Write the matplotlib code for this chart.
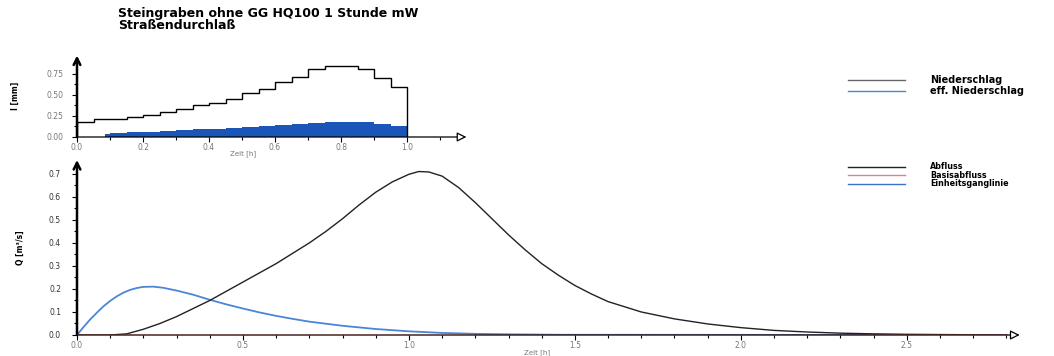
import matplotlib
matplotlib.use('Agg')
import matplotlib.pyplot as plt
import numpy as np
from matplotlib.lines import Line2D
from matplotlib.ticker import FormatStrFormatter

# Daten: Niederschlag (Blockregen, 0.05 h Intervalle)
nieder_edges = [0.0, 0.05, 0.10, 0.15, 0.20, 0.25, 0.30, 0.35, 0.40, 0.45, 0.50,
                0.55, 0.60, 0.65, 0.70, 0.75, 0.80, 0.85, 0.90, 0.95, 1.00]
nieder = [0.18, 0.21, 0.22, 0.24, 0.26, 0.30, 0.33, 0.38, 0.40, 0.45,
          0.52, 0.57, 0.65, 0.71, 0.81, 0.85, 0.85, 0.81, 0.70, 0.59]

# effektiver Niederschlag
eff_edges = [0.085, 0.10, 0.15, 0.20, 0.25, 0.30, 0.35, 0.40, 0.45, 0.50,
             0.55, 0.60, 0.65, 0.70, 0.75, 0.80, 0.85, 0.90, 0.95, 1.00]
eff = [0.04, 0.05, 0.06, 0.065, 0.075, 0.08, 0.09, 0.10, 0.11, 0.12,
       0.13, 0.14, 0.155, 0.17, 0.18, 0.18, 0.175, 0.16, 0.13]

# Abfluss
abfluss_t = [0.0, 0.10, 0.15, 0.20, 0.25, 0.30, 0.35, 0.40, 0.45, 0.50, 0.55, 0.60,
             0.65, 0.70, 0.75, 0.80, 0.85, 0.90, 0.95, 1.00, 1.03, 1.06, 1.10, 1.15,
             1.20, 1.25, 1.30, 1.35, 1.40, 1.45, 1.50, 1.55, 1.60, 1.70, 1.80, 1.90,
             2.00, 2.10, 2.20, 2.30, 2.40, 2.50, 2.60, 2.70, 2.80]
abfluss = [0.0, 0.0, 0.005, 0.025, 0.05, 0.08, 0.115, 0.15, 0.19, 0.23, 0.27, 0.31,
           0.355, 0.40, 0.45, 0.505, 0.565, 0.62, 0.665, 0.698, 0.71, 0.708, 0.69, 0.64,
           0.575, 0.505, 0.435, 0.37, 0.31, 0.26, 0.215, 0.178, 0.145, 0.10, 0.07, 0.048,
           0.032, 0.02, 0.013, 0.008, 0.005, 0.003, 0.002, 0.001, 0.0]

# Basisabfluss
basis_t = [0.0, 2.80]
basis = [0.0, 0.0]

# Einheitsganglinie
egl_t = [0.0, 0.02, 0.04, 0.06, 0.08, 0.10, 0.12, 0.14, 0.16, 0.18, 0.20, 0.23,
         0.26, 0.30, 0.35, 0.40, 0.45, 0.50, 0.55, 0.60, 0.65, 0.70, 0.80, 0.90,
         1.00, 1.10, 1.20, 1.30, 1.45, 2.80]
egl = [0.0, 0.035, 0.068, 0.097, 0.125, 0.148, 0.168, 0.184, 0.196, 0.204, 0.209, 0.21,
       0.205, 0.193, 0.175, 0.153, 0.133, 0.115, 0.098, 0.083, 0.07, 0.058, 0.04, 0.026,
       0.016, 0.009, 0.005, 0.003, 0.001, 0.0]

title = ['Steingraben ohne GG HQ100 1 Stunde mW', 'Straßendurchlaß']

W, H = 1054, 356
fig = plt.figure(figsize=(W / 100, H / 100), dpi=100)

def px(x0, y0, w, h):
    return [x0 / W, 1 - (y0 + h) / H, w / W, h / H]

tick_col = '#777777'

def style(ax, xmax, ymax):
    for s in ax.spines.values():
        s.set_visible(False)
    ax.tick_params(axis='both', which='both', colors='black', labelcolor=tick_col,
                   labelsize=5.5, width=0.8)
    ax.tick_params(which='major', length=3.5)
    ax.tick_params(which='minor', length=2.5)
    ax.tick_params(axis='y', pad=6)
    ax.annotate('', xy=(0, ymax), xytext=(0, 0), xycoords='data',
                arrowprops=dict(arrowstyle='->', lw=1.8, color='black',
                                shrinkA=0, shrinkB=0, mutation_scale=12),
                annotation_clip=False)
    ax.annotate('', xy=(xmax, 0), xytext=(0, 0), xycoords='data',
                arrowprops=dict(arrowstyle='-|>', lw=0.9, color='black', fc='white',
                                shrinkA=0, shrinkB=0, mutation_scale=14),
                annotation_clip=False)

# oberes Diagramm: Niederschlag
ax1 = fig.add_axes(px(77, 55.5, 396, 81.5))
ax1.set_xlim(0, 1.2)
ax1.set_ylim(0, 0.97)
ax1.stairs(eff, eff_edges, fill=True, color='#1a56b8', baseline=0, zorder=2)
ax1.stairs(nieder, nieder_edges, color='black', lw=1.0, baseline=0, zorder=3)
style(ax1, 1.18, 0.97)
ax1.set_xticks(np.arange(0, 1.01, 0.2))
ax1.set_xticks(np.arange(0.1, 1.11, 0.1), minor=True)
ax1.set_yticks([0, 0.25, 0.5, 0.75])
ax1.set_yticks([0.125, 0.375, 0.625, 0.875], minor=True)
ax1.xaxis.set_major_formatter(FormatStrFormatter('%.1f'))
ax1.yaxis.set_major_formatter(FormatStrFormatter('%.2f'))
ax1.tick_params(axis='x', pad=1)
ax1.set_xlabel('Zeit [h]', fontsize=5, color=tick_col, labelpad=0)
ax1.xaxis.set_label_coords(0.42, -0.16)
ax1.set_ylabel('I [mm]', fontsize=5.5, fontweight='bold')
ax1.yaxis.set_label_coords(-0.145, 0.5)

# unteres Diagramm: Abfluss
ax2 = fig.add_axes(px(77, 160, 946, 175))
ax2.set_xlim(0, 2.85)
ax2.set_ylim(0, 0.76)
ax2.plot(egl_t, egl, color='#4a86d8', lw=1.3, zorder=3)
ax2.plot(abfluss_t, abfluss, color='#222222', lw=1.0, zorder=4)
ax2.plot(basis_t, basis, color='#c0392b', lw=1.0, zorder=5)
style(ax2, 2.84, 0.76)
ax2.set_xticks(np.arange(0, 2.51, 0.5))
ax2.set_xticks(np.arange(0.1, 2.81, 0.1), minor=True)
ax2.set_yticks(np.arange(0, 0.71, 0.1))
ax2.set_yticks(np.arange(0.05, 0.71, 0.1), minor=True)
ax2.xaxis.set_major_formatter(FormatStrFormatter('%.1f'))
ax2.yaxis.set_major_formatter(FormatStrFormatter('%.1f'))
ax2.tick_params(axis='x', pad=1)
ax2.tick_params(axis='y', labelcolor='#333333', pad=8)
ax2.set_xlabel('Zeit [h]', fontsize=5, color=tick_col, labelpad=0)
ax2.xaxis.set_label_coords(0.486, -0.08)
ax2.set_ylabel('Q [m³/s]', fontsize=5.5, fontweight='bold')
ax2.yaxis.set_label_coords(-0.055, 0.5)

# Titel
fig.text(118 / W, 1 - 7 / H, title[0] + '\n' + title[1], fontsize=9, fontweight='bold',
         va='top', ha='left', linespacing=0.9)

# Legenden
def legend(rows, labels, colors, size):
    for y, lab, c in zip(rows, labels, colors):
        fig.add_artist(Line2D([848 / W, 905 / W], [1 - y / H, 1 - y / H],
                              color=c, lw=1.0))
        fig.text(930 / W, 1 - y / H, lab, fontsize=size, fontweight='bold',
                 va='center', ha='left')

legend([80, 91], ['Niederschlag', 'eff. Niederschlag'], ['#666666', '#4a86d8'], 7)
legend([166.5, 175, 183.5], ['Abfluss', 'Basisabfluss', 'Einheitsganglinie'],
       ['#222222', '#e08080', '#3a72cc'], 5.8)

fig.savefig('out.png', dpi=100)
